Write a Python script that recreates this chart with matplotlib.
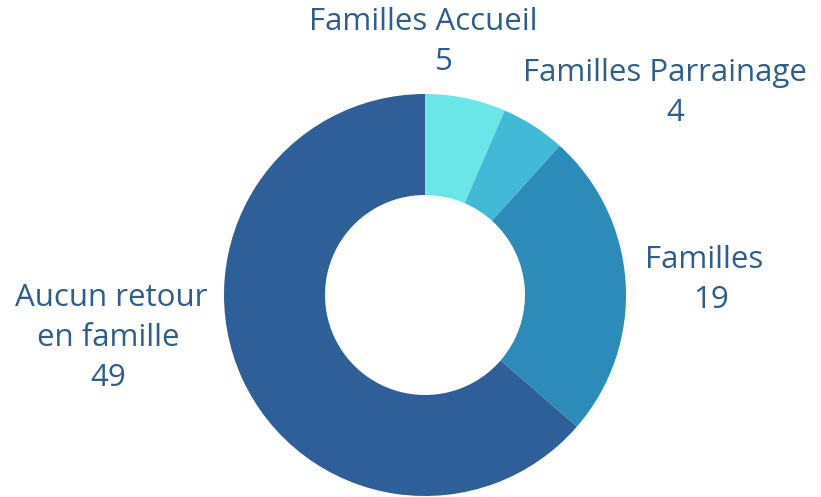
import matplotlib
matplotlib.use('Agg')
import matplotlib.pyplot as plt

categories = ['Familles Accueil', 'Familles Parrainage', 'Familles', 'Aucun retour en famille']
values = [5, 4, 19, 49]
colors = ['#6AE5E8', '#42B9D6', '#2D8BBA', '#2F5F98']
text_color = '#2F5D8C'

fig = plt.figure(figsize=(8.21, 4.97), dpi=100)
ax = fig.add_axes([0, 0, 1, 1])

ax.pie(values, colors=colors, startangle=90, counterclock=False,
       center=(425, 202), radius=201,
       wedgeprops=dict(width=101, linewidth=0))

# pie() change les limites, on les remet apres
ax.set_xlim(0, 821)
ax.set_ylim(0, 497)
ax.set_aspect('equal')
ax.axis('off')

# etiquettes
font = dict(family='Open Sans', fontsize=22.5, color=text_color, ha='center', va='center')
ax.text(423, 475, 'Familles Accueil', **font)
ax.text(444, 435, str(values[0]), **font)
ax.text(665, 424, 'Familles Parrainage', **font)
ax.text(675, 384, str(values[1]), **font)
ax.text(704, 237, 'Familles', **font)
ax.text(711, 197, str(values[2]), **font)
ax.text(111, 199, 'Aucun retour', **font)
ax.text(108, 159, 'en famille', **font)
ax.text(108, 119, str(values[3]), **font)

fig.savefig('out.png', dpi=100)
